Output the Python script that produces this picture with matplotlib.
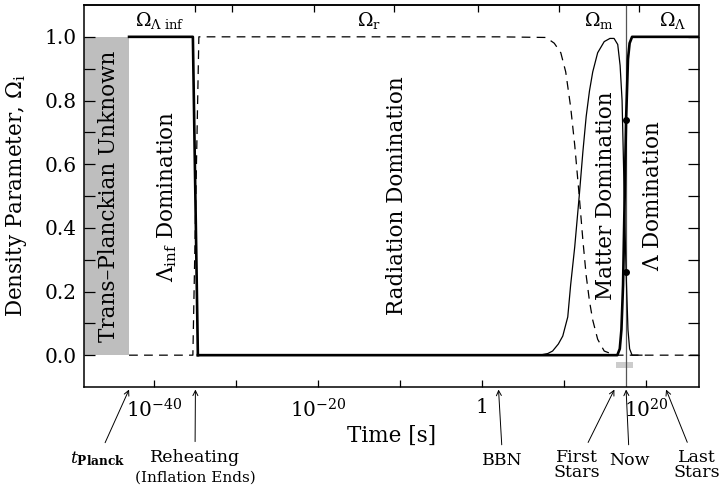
import numpy as np
import matplotlib as mpl
import matplotlib.pyplot as plt
from matplotlib.ticker import FixedLocator, NullLocator

mpl.rc("font", family="DejaVu Serif", size=12)
mpl.rc("mathtext", fontset="dejavuserif")

# log10(time / s) and density parameter
logt_lam_inf = [-43.10, -35.31, -34.70]
omega_lam_inf = [1.0, 1.0, 0.0]

logt_rad = [-43.10, -35.31, -34.58, 2.0, 7.8, 8.8, 9.6, 10.2, 10.8, 11.3,
            11.85, 12.3, 12.7, 13.1, 13.5, 14.1, 14.9, 15.9, 16.5, 26.47]
omega_rad = [0.0, 0.0, 1.0, 1.0, 0.998, 0.98, 0.95, 0.89, 0.78, 0.66,
             0.50, 0.36, 0.25, 0.17, 0.11, 0.05, 0.013, 0.003, 0.0, 0.0]

logt_mat = [-34.70, 7.0, 8.0, 8.6, 9.3, 9.84, 10.45, 10.8, 11.3, 11.85, 12.3,
            12.7, 13.1, 13.5, 14.1, 14.9, 15.6, 16.1, 16.55, 16.84, 17.08,
            17.3, 17.57, 17.8, 18.0, 18.3, 19.5]
omega_mat = [0.0, 0.0, 0.005, 0.013, 0.035, 0.06, 0.12, 0.22, 0.34, 0.50, 0.64,
             0.75, 0.83, 0.89, 0.95, 0.985, 0.995, 0.995, 0.976, 0.91, 0.80,
             0.55, 0.26, 0.08, 0.02, 0.0, 0.0]

logt_lam = [-34.70, 16.5, 16.8, 17.0, 17.2, 17.4, 17.57, 17.8, 18.0, 18.3, 26.47]
omega_lam = [0.0, 0.0, 0.02, 0.08, 0.22, 0.50, 0.74, 0.93, 0.98, 1.0, 1.0]

logt_now = 17.57
omega_now = [0.74, 0.26]  # Lambda, matter

logt_unknown = [-48.6, -43.10]   # trans-Planckian band
logt_life = [16.33, 18.44]        # small grey bar under the axis
omega_life = [-0.02, -0.04]

xlim_log = (-48.6, 26.47)
bottom_ticks_log = [-40, -30, -20, -10, 0, 10, 20]
bottom_tick_labels = [r"$10^{-40}$", "", r"$10^{-20}$", "", "1", "", r"$10^{20}$"]
top_ticks_log = [-35.0, -30.55, -20.55, -10.7, -0.54, 9.35, 19.2]

# events marked under the axis: label, log10 t of arrow tip, label position
event_names = [r"$t_{\mathbf{Planck}}$", "Reheating", "BBN",
               "First\nStars", "Now", "Last\nStars"]
event_logt = [-43.10, -35.0, 2.0, 16.14, 17.57, 22.45]
event_text_logt = [-46.9, -35.05, 2.5, 11.57, 17.97, 26.15]
event_text_omega = [-0.325, -0.32, -0.33, -0.345, -0.33, -0.345]

eras = ["Trans\u2013Planckian Unknown", r"$\Lambda_{\rm inf}$ Domination",
        "Radiation Domination", "Matter Domination", r"$\Lambda$ Domination"]
era_logt = [-45.6, -38.5, -10.45, 15.1, 20.9]

omega_names = [r"$\Omega_{\Lambda\ \rm inf}$", r"$\Omega_{\rm r}$",
               r"$\Omega_{\rm m}$", r"$\Omega_{\Lambda}$"]
omega_name_logt = [-39.35, -13.75, 14.3, 23.2]


def t(logs):
    return 10.0 ** np.asarray(logs, dtype=float)


fig = plt.figure(figsize=(7.25, 4.92), dpi=100)
ax = fig.add_axes([84 / 725, 105 / 492, 615 / 725, 382 / 492])
ax.set_xscale("log")

ax.fill_between(t(logt_unknown), 0, 1, color="#bebebe", lw=0, zorder=1)
ax.fill_between(t(logt_life), omega_life[0], omega_life[1],
                color="#cccccc", lw=0, zorder=1)

ax.plot(t(logt_rad), omega_rad, color="k", lw=0.9, ls=(0, (7, 5)), zorder=3)
ax.plot(t(logt_mat), omega_mat, color="k", lw=0.9, zorder=3)
ax.plot(t(logt_lam_inf), omega_lam_inf, color="k", lw=1.9, zorder=4)
ax.plot(t(logt_lam), omega_lam, color="k", lw=1.9, zorder=4)
ax.axvline(t(logt_now), color="#555555", lw=0.9, zorder=2)
ax.plot(t([logt_now, logt_now]), omega_now, "o", color="k", ms=4, zorder=5)

for name, lx in zip(eras, era_logt):
    ax.text(t(lx), 0.5, name, rotation=90, ha="center", va="center",
            fontsize=15.5, zorder=6)

for name, lx in zip(omega_names, omega_name_logt):
    ax.text(t(lx), 1.05, name, ha="center", va="center", fontsize=13.5)

for name, tip, tx, ty in zip(event_names, event_logt, event_text_logt,
                             event_text_omega):
    ax.annotate(name, xy=(t(tip), -0.108), xytext=(t(tx), ty),
                ha="center", va="center", fontsize=12.5, linespacing=0.85,
                annotation_clip=False,
                arrowprops=dict(arrowstyle="->", lw=0.7, color="k",
                                shrinkA=3, shrinkB=0, mutation_scale=9))
ax.text(t(-35.05), -0.385, "(Inflation Ends)", ha="center", va="center",
        fontsize=11, clip_on=False)

ax.set_xlim(t(xlim_log))
ax.set_ylim(-0.1, 1.1)
ax.xaxis.set_major_locator(FixedLocator(t(bottom_ticks_log)))
ax.xaxis.set_major_formatter(plt.FixedFormatter(bottom_tick_labels))
ax.xaxis.set_minor_locator(NullLocator())
ax.set_yticks(np.arange(0, 1.01, 0.2))
ax.set_yticks(np.arange(0.1, 1.0, 0.2), minor=True)
ax.set_yticklabels(["0.0", "0.2", "0.4", "0.6", "0.8", "1.0"])
ax.tick_params(axis="y", which="both", direction="in", length=8, width=0.9,
               left=True, right=True, pad=5, labelsize=14.5)
ax.tick_params(axis="x", which="both", direction="in", length=5, width=0.9,
               bottom=True, top=False, pad=8, labelsize=14.5)

top = ax.secondary_xaxis("top")
top.xaxis.set_major_locator(FixedLocator(t(top_ticks_log)))
top.xaxis.set_minor_locator(NullLocator())
top.tick_params(direction="in", length=5, width=0.9, labeltop=False)

for sp in list(ax.spines.values()) + list(top.spines.values()):
    sp.set_linewidth(1.1)

ax.set_xlabel("Time [s]", fontsize=15.5)
ax.xaxis.set_label_coords(0.5, -0.098)
ax.set_ylabel(r"Density Parameter, $\Omega_{\rm i}$", fontsize=15.5)
ax.yaxis.set_label_coords(-0.09, 0.5)

fig.savefig("out.png", dpi=100)
